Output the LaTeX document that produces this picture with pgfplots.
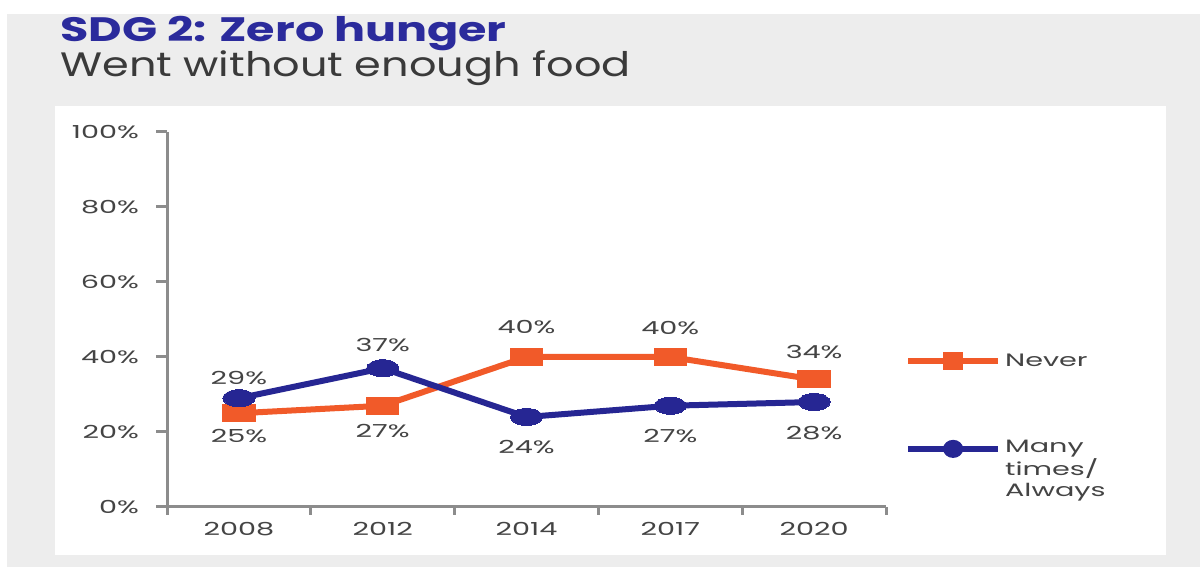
\documentclass[border=0pt]{standalone}
\usepackage{pgfplots}
\pgfplotsset{compat=1.18}
\usepackage{fontspec}
\setmainfont{Poppins}[FakeStretch=1.6]
\newfontfamily\titlefont{Poppins}[FakeStretch=1.36]
\newfontfamily\subfont{Poppins}[FakeStretch=1.27]
\definecolor{bggray}{HTML}{EDEDED}
\definecolor{titlecol}{HTML}{2B2B9C}
\definecolor{subcol}{HTML}{3A3A3A}
\definecolor{labelcol}{HTML}{444444}
\definecolor{axisgray}{HTML}{8C8C8C}
\definecolor{orangec}{HTML}{F15A29}
\definecolor{navyc}{HTML}{262693}
\newcommand{\chart}{\fontsize{9}{10.5}\selectfont}
\begin{document}
\begin{tikzpicture}[x=0.5bp,y=0.5bp]
\fill[white] (0,0) rectangle (1200,567);
\fill[bggray] (7,0) rectangle (1200,553);
\fill[white] (55,12) rectangle (1166,461);
\node[anchor=base west, text=titlecol, font=\titlefont\bfseries\fontsize{17}{20}\selectfont, inner sep=0pt] at (60,525) {SDG 2: Zero hunger};
\node[anchor=base west, text=subcol, font=\subfont\fontsize{17}{20}\selectfont, inner sep=0pt] at (60,490) {Went without enough food};
\begin{axis}[
  at={(83.5bp,30bp)}, anchor=south west,
  scale only axis, width=359.5bp, height=187.5bp,
  xmin=-0.5, xmax=4.5, ymin=0, ymax=100,
  axis x line*=bottom, axis y line*=left,
  axis line style={draw=axisgray, line width=1.5bp},
  xtick={0,...,4}, xticklabels={2008,2012,2014,2017,2020},
  minor xtick={-0.5,0.5,...,4.5},
  ytick={0,20,...,100},
  yticklabel={\pgfmathprintnumber{\tick}\%},
  /pgf/number format/assume math mode=true,
  tick align=outside, major tick length=5.5bp, minor tick length=4bp,
  tick style={draw=axisgray, line width=1.5bp},
  major x tick style={draw=none},
  ticklabel style={font=\chart, text=labelcol},
  yticklabel style={xshift=-5bp},
  xticklabel style={yshift=1.5bp},
  clip=false,
  legend style={at={(axis description cs:1.026,0.421)}, anchor=north west,
    draw=none, fill=none, inner sep=0pt, column sep=0bp, row sep=31.5bp,
    font=\chart, text=labelcol, cells={anchor=west, align=left}},
  nodes near coords={\pgfmathprintnumber{\pgfplotspointmeta}\%},
  point meta=y,
  visualization depends on={\thisrow{dy} \as \dy},
  nodes near coords style={anchor=center, yshift=\dy*0.5bp, font=\chart, text=labelcol, /pgf/number format/assume math mode=true},
]
\addplot[color=orangec, line width=3bp, mark=square*, mark size=4.25bp,
  mark options={xscale=1.9, line width=0pt},
  legend image code/.code={\draw[orangec, line width=3bp] (0bp,0bp) -- (45bp,0bp); \fill[orangec] (19bp,-3bp) rectangle (26bp,3bp);}]
  table {
x y dy
0 25 -23
1 27 -25
2 40 30
3 40 29
4 34 27
};
\addlegendentry{Never}
\addplot[color=navyc, line width=3bp, mark=*, mark size=4.25bp,
  mark options={xscale=1.9, line width=0pt},
  legend image code/.code={\draw[navyc, line width=3bp] (0bp,10.5bp) -- (45bp,10.5bp); \fill[navyc] (22.5bp,10.5bp) ellipse (3.5bp and 3bp);}]
  table {
x y dy
0 29 20
1 37 23
2 24 -30
3 27 -30
4 28 -31
};
\addlegendentry{Many\\times/\\Always}
\end{axis}
\end{tikzpicture}
\end{document}
